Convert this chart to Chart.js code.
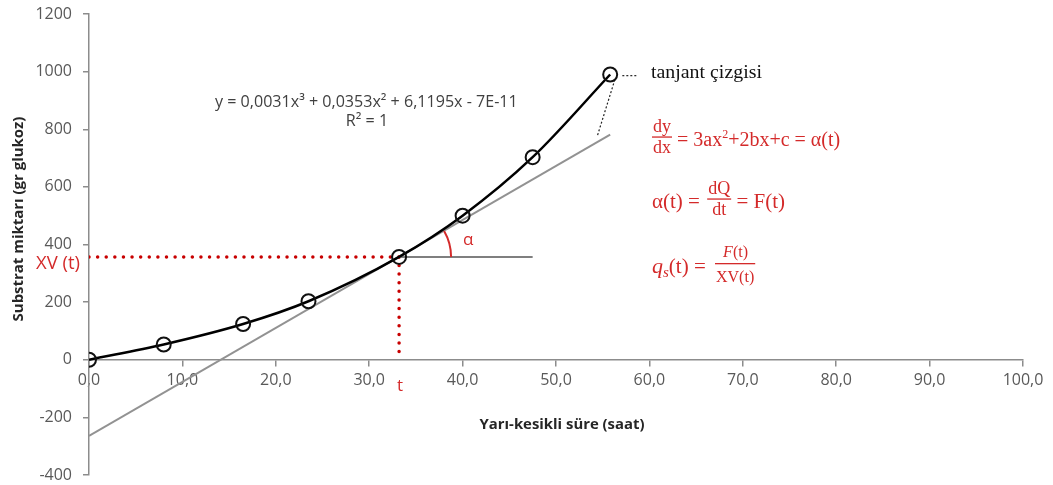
<!DOCTYPE html>
<html>
<head>
<meta charset="utf-8">
<script src="https://cdn.jsdelivr.net/npm/chart.js@4.4.1/dist/chart.umd.min.js"></script>
<style>
  html, body { margin: 0; padding: 0; background: #fff; }
  #wrap { width: 1053px; height: 485px; }
</style>
</head>
<body>
<div id="wrap"><canvas id="chart" width="1053" height="485"></canvas></div>
<script>
// measured points (time in h, substrate in g glucose)
const timeH = [0, 8.0, 16.5, 23.5, 33.2, 40.0, 47.5, 55.8];
const substrate = [0, 53, 124, 203, 357, 500, 703, 990];

// tangent at t
const tangentX = [0, 55.8];
const tangentY = [-264, 781];
const tPoint = 33.2;
const xvT = 357;
const horizEndX = 47.5;

// dotted leaders for the "tanjant çizgisi" label
const leaderX = [57.1, 58.7];
const leaderY = [986, 986];
const slantX = [56.3, 54.4];
const slantY = [972, 774];

const xTicks = { min: 0, max: 100, step: 10 };
const yTicks = { min: -400, max: 1200, step: 200 };

const AXIS = '#8c8c8c';
const TICK_TXT = '#595959';
const RED_TXT = '#d42a2a';
const RED_DOT = '#c80000';
const SANS = '"Open Sans", "Liberation Sans", sans-serif';
const SERIF = '"Liberation Serif", "DejaVu Serif", serif';

const pts = (xs, ys) => xs.map((x, i) => ({ x, y: ys[i] }));
const fmtX = v => v.toFixed(1).replace('.', ',');

// font size that makes text span the given width
function fitFont(ctx, text, weight, family, width) {
  ctx.font = weight + ' 20px ' + family;
  const size = 20 * width / ctx.measureText(text).width;
  ctx.font = weight + ' ' + size.toFixed(2) + 'px ' + family;
  return size;
}

function fraction(ctx, num, den, x, barY, size, color) {
  ctx.font = size + 'px ' + SERIF;
  const w = Math.max(ctx.measureText(num).width, ctx.measureText(den).width);
  ctx.fillStyle = color;
  ctx.textAlign = 'center';
  ctx.textBaseline = 'alphabetic';
  ctx.fillText(num, x + 1 + w / 2, barY - size * 0.3);
  ctx.fillText(den, x + 1 + w / 2, barY + size * 0.88);
  ctx.fillRect(x, barY - 0.6, w + 2, 1.3);
  ctx.textAlign = 'left';
  return x + w + 2;
}

function run(ctx, parts, x, baseY, color) {
  ctx.fillStyle = color;
  ctx.textAlign = 'left';
  ctx.textBaseline = 'alphabetic';
  parts.forEach(p => {
    ctx.font = (p.italic ? 'italic ' : '') + p.size + 'px ' + SERIF;
    ctx.fillText(p.t, x, baseY + (p.dy || 0));
    x += ctx.measureText(p.t).width;
  });
  return x;
}

const annotations = {
  id: 'annotations',
  afterDatasetsDraw(chart) {
    const { ctx, scales: { x, y } } = chart;
    ctx.save();

    // angle arc
    const cx = x.getPixelForValue(tPoint), cy = y.getPixelForValue(xvT);
    const ang = Math.atan2(y.getPixelForValue(tangentY[1]) - y.getPixelForValue(tangentY[0]),
                           x.getPixelForValue(tangentX[1]) - x.getPixelForValue(tangentX[0]));
    ctx.strokeStyle = RED_TXT;
    ctx.lineWidth = 2;
    ctx.beginPath();
    ctx.arc(cx, cy, 52, ang, 0, false);
    ctx.stroke();

    ctx.fillStyle = RED_TXT;
    ctx.font = '17px ' + SANS;
    ctx.textAlign = 'center';
    ctx.textBaseline = 'middle';
    ctx.fillText('α', cx + 69, cy - 17);
    ctx.fillText('t', cx + 1, y.getPixelForValue(0) + 26);
    ctx.textAlign = 'left';
    fitFont(ctx, 'XV (t)', '', SANS, 44);
    ctx.fillText('XV (t)', 36, cy + 7);

    // equation of the trendline
    ctx.fillStyle = '#404040';
    ctx.textAlign = 'left';
    fitFont(ctx, 'y = 0,0031x³ + 0,0353x² + 6,1195x - 7E-11', '', SANS, 303);
    ctx.fillText('y = 0,0031x³ + 0,0353x² + 6,1195x - 7E-11', 215, 102);
    ctx.textAlign = 'center';
    ctx.fillText('R² = 1', 367, 121);

    // axis titles
    ctx.fillStyle = '#262626';
    fitFont(ctx, 'Yarı-kesikli süre (saat)', 'bold', SANS, 165);
    ctx.fillText('Yarı-kesikli süre (saat)', 562, 425);
    ctx.save();
    ctx.translate(19, 219);
    ctx.rotate(-Math.PI / 2);
    fitFont(ctx, 'Substrat miktarı (gr glukoz)', 'bold', SANS, 205);
    ctx.fillText('Substrat miktarı (gr glukoz)', 0, 0);
    ctx.restore();

    // right-hand notes
    ctx.fillStyle = '#111';
    ctx.textAlign = 'left';
    ctx.textBaseline = 'alphabetic';
    fitFont(ctx, 'tanjant çizgisi', '', SERIF, 111);
    ctx.fillText('tanjant çizgisi', 651, 78);

    let px = fraction(ctx, 'dy', 'dx', 652, 137, 18, RED_TXT);
    run(ctx, [
      { t: '= 3ax', size: 20 }, { t: '2', size: 12, dy: -8 },
      { t: '+2bx+c = α(t)', size: 20 }
    ], px + 5, 146, RED_TXT);

    px = run(ctx, [{ t: 'α(t) = ', size: 21 }], 652, 208, RED_TXT);
    px = fraction(ctx, 'dQ', 'dt', px + 2, 199, 18, RED_TXT);
    run(ctx, [{ t: ' = F(t)', size: 21 }], px, 208, RED_TXT);

    px = run(ctx, [
      { t: 'q', size: 22, italic: true }, { t: 's', size: 15, italic: true, dy: 4 },
      { t: '(t) = ', size: 21 }
    ], 652, 273, RED_TXT);
    px += 4;
    ctx.font = '16px ' + SERIF;
    const wNum = ctx.measureText('F(t)').width, wDen = ctx.measureText('XV(t)').width;
    const fw = Math.max(wNum, wDen);
    run(ctx, [{ t: 'F', size: 16, italic: true }, { t: '(t)', size: 16 }], px + 1 + (fw - wNum) / 2, 257, RED_TXT);
    run(ctx, [{ t: 'XV(t)', size: 16 }], px + 1 + (fw - wDen) / 2, 282, RED_TXT);
    ctx.fillRect(px, 263, fw + 2, 1.3);

    ctx.restore();
  }
};

new Chart(document.getElementById('chart').getContext('2d'), {
  type: 'scatter',
  data: {
    datasets: [
      { label: 'Ölçüm', data: pts(timeH, substrate), showLine: false, pointRadius: 7, pointBorderWidth: 2,
        pointBorderColor: '#111', pointBackgroundColor: 'rgba(0,0,0,0)' },
      { label: 'Trend', data: pts(timeH, substrate), showLine: true, borderColor: '#000', borderWidth: 2.5,
        cubicInterpolationMode: 'monotone', pointRadius: 0 },
      { label: 'Tanjant', data: pts(tangentX, tangentY), showLine: true, borderColor: '#929292', borderWidth: 2, pointRadius: 0 },
      { label: 'Yatay', data: pts([tPoint, horizEndX], [xvT, xvT]), showLine: true, borderColor: '#7f7f7f', borderWidth: 2, pointRadius: 0 },
      { label: 'XV', data: pts([0, tPoint], [xvT, xvT]), showLine: true, borderColor: RED_DOT, borderWidth: 3.5,
        borderDash: [0.01, 8.6], borderCapStyle: 'round', pointRadius: 0 },
      { label: 't', data: pts([tPoint, tPoint], [xvT, 0]), showLine: true, borderColor: RED_DOT, borderWidth: 3.5,
        borderDash: [0.01, 8.6], borderCapStyle: 'round', pointRadius: 0 },
      { label: 'leader', data: pts(leaderX, leaderY), showLine: true, borderColor: '#222', borderWidth: 1.2,
        borderDash: [2, 2], pointRadius: 0 },
      { label: 'slant', data: pts(slantX, slantY), showLine: true, borderColor: '#222', borderWidth: 1.2,
        borderDash: [2, 2], pointRadius: 0 }
    ]
  },
  options: {
    responsive: false,
    animation: false,
    devicePixelRatio: 1,
    layout: { padding: { top: 14, right: 30, bottom: 10, left: 0 } },
    plugins: { legend: { display: false }, tooltip: { enabled: false } },
    scales: {
      x: {
        type: 'linear', min: xTicks.min, max: xTicks.max, position: { y: 0 },
        afterFit: s => { s.paddingLeft = 0; s.paddingRight = 0; s.paddingTop = 0; s.paddingBottom = 0; },
        ticks: { stepSize: xTicks.step, callback: v => fmtX(v), color: TICK_TXT, font: { family: SANS, size: 16 }, padding: 5, maxRotation: 0 },
        grid: { drawOnChartArea: false, drawTicks: true, tickLength: 6, color: AXIS, lineWidth: 1.5 },
        border: { color: AXIS, width: 1.5 }
      },
      y: {
        type: 'linear', min: yTicks.min, max: yTicks.max, position: 'left',
        afterFit: s => { s.width = 89; s.paddingTop = 0; s.paddingBottom = 0; },
        ticks: { stepSize: yTicks.step, callback: v => String(v), color: TICK_TXT, font: { family: SANS, size: 16 }, padding: 11 },
        grid: { drawOnChartArea: false, drawTicks: true, tickLength: 6, color: AXIS, lineWidth: 1.5 },
        border: { color: AXIS, width: 1.5 }
      }
    }
  },
  plugins: [annotations]
});
</script>
</body>
</html>
